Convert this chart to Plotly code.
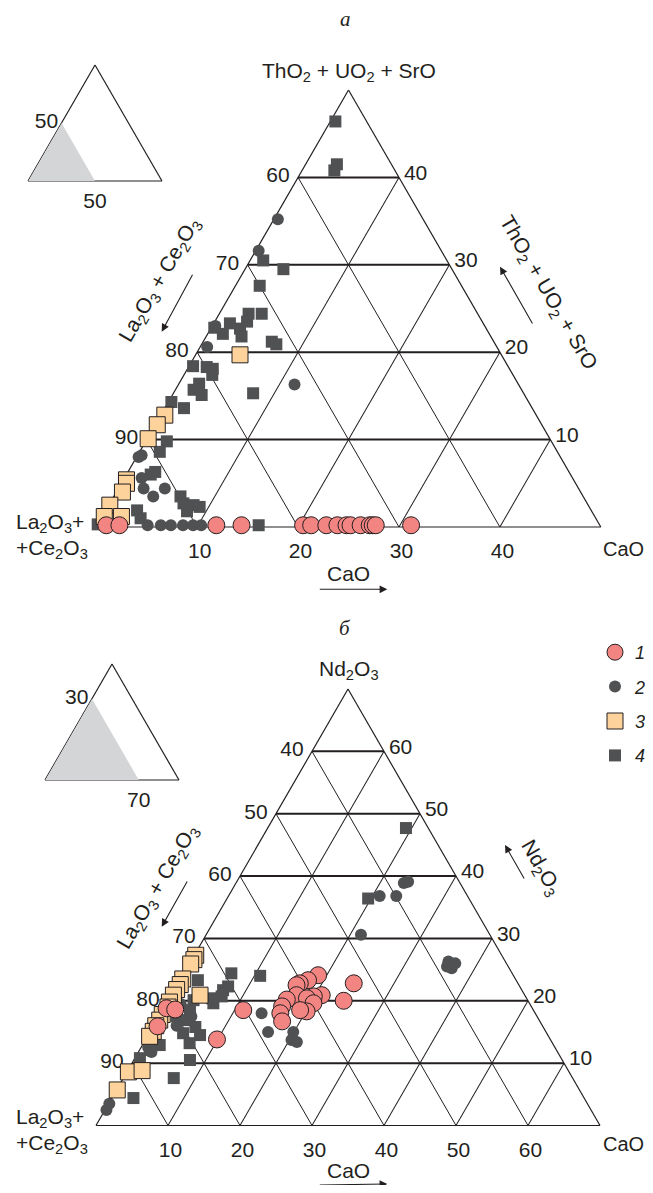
import plotly.graph_objects as go

# ---------------- Panel "а": ThO2+UO2+SrO (top), La2O3+Ce2O3 (left), CaO (right), wt.% ----------------
a1_th = [0.2, 0.2, 0.2, 0.2, 0.2, 0.2, 0.2, 0.2, 0.2, 0.2, 0.2, 0.2, 0.2, 0.2, 0.2]
a1_ca = [0.9, 2.2, 11.8, 14.3, 20.4, 21.2, 22.7, 23.8, 24.7, 25.1, 26.1, 27.0, 27.3, 27.6, 31.1]

a2_th = [35.2, 31.6, 23.0, 20.6, 16.3, 8.0, 8.2, 5.6, 4.4, 3.5, 4.4, 0.2, 0.2, 0.2, 0.2, 0.2, 0.2]
a2_ca = [0.4, 0.3, 0.3, 0.7, 11.5, 0.2, 0.4, 1.7, 2.5, 3.9, 4.6, 5.0, 6.3, 7.3, 8.5, 9.5, 10.3]

a3_th = [19.7, 12.8, 11.7, 10.1, 5.4, 5.0, 4.0, 2.5, 1.2, 1.2]
a3_ca = [4.4, 0.4, 0.2, 0.1, 0.3, 0.5, 0.6, 0.1, 0.2, 1.9]

a4_th = [46.4, 41.5, 40.8, 30.5, 29.5, 27.6, 24.4, 24.4, 23.5, 23.3, 22.8, 22.1, 22.7, 21.8,
         21.2, 20.9, 18.4, 18.3, 18.1, 17.4, 16.4, 15.7, 15.1, 15.3, 14.3, 13.6, 9.8, 8.6,
         6.3, 6.0, 3.5, 2.7, 2.5, 2.3, 1.8, 1.9, 1.0, 0.3, 0.2]
a4_ca = [0.5, 3.1, 3.2, 1.3, 3.8, 2.4, 2.9, 4.2, 3.2, 1.6, 0.3, 1.5, 2.9, 3.5,
         6.8, 7.4, 0.4, 1.8, 2.5, 2.8, 2.0, 1.8, 2.9, 7.9, 0.3, 1.9, 2.1, 2.0,
         2.7, 2.4, 6.6, 7.3, 8.4, 9.1, 8.1, 3.1, 3.9, 0.0, 16.0]

# ---------------- Panel "б": Nd2O3 (top), La2O3+Ce2O3 (left), CaO (right), wt.% ----------------
b1_nd = [24.1, 23.3, 22.8, 22.5, 22.8, 20.9, 20.7, 20.9, 20.2, 20.4, 20.0, 19.6, 18.3, 18.5,
         19.1, 18.0, 16.7, 18.5, 13.8, 18.8, 18.6, 15.9]
b1_ca = [18.8, 17.8, 16.9, 16.6, 24.4, 20.9, 19.9, 17.4, 16.4, 19.1, 24.4, 20.4, 20.1, 19.1,
         16.3, 16.6, 17.5, 11.2, 9.9, 0.4, 1.7, 0.6]

b2_nd = [38.9, 39.1, 36.8, 36.8, 30.6, 25.5, 26.3, 25.2, 26.0, 18.0, 15.0, 15.0, 13.7, 13.4,
         2.5, 3.5, 17.5, 16.0, 12.5, 11.8, 19.5]
b2_ca = [23.3, 23.8, 21.0, 23.3, 21.5, 36.0, 35.8, 36.8, 36.9, 14.0, 16.4, 19.9, 20.3, 21.2,
         0.2, 0.1, 4.5, 3.2, 1.0, 1.8, 2.0]

b3_nd = [27.3, 26.6, 25.9, 23.5, 22.6, 21.8, 20.9, 19.8, 19.0, 17.8, 16.9, 16.0, 15.1, 14.3,
         20.9, 8.6, 8.8, 5.7]
b3_ca = [0.2, 0.3, 0.2, 0.3, 0.4, 0.3, 0.3, 0.3, 0.5, 0.3, 0.4, 0.3, 0.4, 0.3,
         4.0, 0.2, 2.0, 0.1]

b4_nd = [47.7, 36.4, 24.0, 24.4, 22.3, 20.7, 19.6, 23.3, 21.7, 20.4, 20.1, 16.9, 15.8, 14.5,
         14.8, 13.2, 10.5, 7.6, 4.4, 12.1, 10.8, 12.9, 17.5, 18.5]
b4_ca = [19.2, 19.6, 10.8, 6.6, 7.2, 7.1, 6.5, 2.5, 6.8, 5.9, 3.5, 3.9, 5.9, 7.2,
         4.7, 6.4, 7.8, 7.0, 3.0, 1.5, 0.7, 2.4, 2.5, 3.8]

# tick values / labels
a_top_vals = [10, 20, 30, 40]
a_left_text = ["90", "80", "70", "60"]
a_bot_vals = [60, 70, 80, 90]
a_bot_text = ["40", "30", "20", "10"]
a_right_text = ["40", "30", "20", "10"]

b_top_vals = [10, 20, 30, 40, 50, 60]
b_left_text = ["90", "80", "70", "60", "50", "40"]
b_bot_vals = [40, 50, 60, 70, 80, 90]
b_bot_text = ["60", "50", "40", "30", "20", "10"]
b_right_text = ["60", "50", "40", "30", "20", "10"]

# inset shaded regions (top, left, right corner components)
ins_a_top = [0, 50, 0]
ins_a_left = [100, 50, 50]
ins_a_right = [0, 0, 50]
ins_b_top = [0, 70, 0]
ins_b_left = [100, 30, 30]
ins_b_right = [0, 0, 70]

# page is 653x1193; the html body has an 8px margin, so the figure is 16px smaller
OFF = 8
W, H = 653 - 2 * OFF, 1193 - 2 * OFF
INK = "#231f20"
FONT = "Liberation Sans"
FS = 21
PINK = "#f28482"
PEACH = "#fdd39b"
DARK = "#4f5153"


def px(x):
    return (x - OFF) / W


def py(y):
    return 1 - (y - OFF) / H


def rest(t, c):
    return [100 - ti - ci for ti, ci in zip(t, c)]


def axis(mn, vals, text, grid=True, gw=1.0, show_labels=True, tl=5):
    return dict(min=mn, tickmode="array", tickvals=vals, ticktext=text, ticks="outside",
                ticklen=tl, tickcolor="rgba(0,0,0,0)",
                showgrid=grid, gridcolor=INK, gridwidth=gw, showline=True, linecolor=INK,
                linewidth=1.2, layer="below traces", showticklabels=show_labels,
                tickfont=dict(family=FONT, size=FS, color=INK), title=dict(text=""))


def tern(x0, x1, ytop, ybot, aax, bax, cax):
    return dict(sum=100, domain=dict(x=[px(x0), px(x1)], y=[py(ybot), py(ytop)]),
                bgcolor="white", aaxis=aax, baxis=bax, caxis=cax)


fig = go.Figure()

styles = {
    1: dict(symbol="circle", size=17, color=PINK, line=dict(color=INK, width=1)),
    2: dict(symbol="circle", size=12, color=DARK, line=dict(width=0)),
    3: dict(symbol="square", size=16, color=PEACH, line=dict(color=INK, width=1)),
    4: dict(symbol="square", size=12, color=DARK, line=dict(width=0)),
}


def add(sub, top, cao, k, legend):
    fig.add_trace(go.Scatterternary(
        subplot=sub, a=top, b=rest(top, cao), c=cao, mode="markers",
        marker=styles[k], name=f"<i>{k}</i>", showlegend=legend,
        legendgroup=str(k), legendrank=k, cliponaxis=False))


for k, t, c in [(4, a4_th, a4_ca), (2, a2_th, a2_ca), (3, a3_th, a3_ca), (1, a1_th, a1_ca)]:
    add("ternary", t, c, k, False)
for k, t, c in [(4, b4_nd, b4_ca), (2, b2_nd, b2_ca), (3, b3_nd, b3_ca), (1, b1_nd, b1_ca)]:
    add("ternary3", t, c, k, True)

for sub, t, l, r in [("ternary2", ins_a_top, ins_a_left, ins_a_right),
                     ("ternary4", ins_b_top, ins_b_left, ins_b_right)]:
    fig.add_trace(go.Scatterternary(subplot=sub, a=t, b=l, c=r, mode="lines", fill="toself",
                                    fillcolor="#d4d5d7", line=dict(width=0), showlegend=False,
                                    hoverinfo="skip"))

fig.update_layout(
    width=W, height=H, margin=dict(l=0, r=0, t=0, b=0, autoexpand=False),
    paper_bgcolor="white", plot_bgcolor="white", showlegend=True,
    ternary=tern(96, 601, 90, 527,
                 axis(0, a_top_vals, a_left_text, gw=1.6),
                 axis(50, a_bot_vals, a_bot_text),
                 axis(0, a_top_vals, a_right_text, tl=3)),
    ternary2=tern(28, 162, 65, 181,
                  axis(0, [50], ["50"], grid=False, tl=0),
                  axis(0, [50], ["50"], grid=False, tl=0),
                  axis(0, [50], [""], grid=False, show_labels=False, tl=0)),
    ternary3=tern(96, 600, 689, 1125.5,
                  axis(0, b_top_vals, b_left_text, gw=1.6),
                  axis(30, b_bot_vals, b_bot_text),
                  axis(0, b_top_vals, b_right_text, tl=3)),
    ternary4=tern(45, 179, 664, 780,
                  axis(0, [70], ["30"], grid=False, tl=0),
                  axis(0, [30], ["70"], grid=False, tl=0),
                  axis(0, [50], [""], grid=False, show_labels=False, tl=0)),
    legend=dict(x=px(595), y=py(634), xanchor="left", yanchor="top",
                font=dict(family=FONT, size=18, color=INK), tracegroupgap=8,
                bgcolor="rgba(0,0,0,0)", itemwidth=30),
)

f = dict(family=FONT, size=FS, color=INK)
fr = dict(family=FONT, size=20, color=INK)
notes = [
    (345, 19, "<i>а</i>", 0, dict(family="Liberation Serif", size=21, color=INK)),
    (349, 72, "ThO<sub>2</sub> + UO<sub>2</sub> + SrO", 0, f),
    (50, 523, "La<sub>2</sub>O<sub>3</sub>+", 0, f),
    (52, 549, "+Ce<sub>2</sub>O<sub>3</sub>", 0, f),
    (623, 549, "CaO", 0, fr),
    (160, 280, "La<sub>2</sub>O<sub>3</sub> + Ce<sub>2</sub>O<sub>3</sub>", -60, f),
    (548, 293, "ThO<sub>2</sub> + UO<sub>2</sub> + SrO", 60, f),
    (348, 573, "CaO", 0, f),
    (345, 628, "<i>б</i>", 0, dict(family="Liberation Serif", size=21, color=INK)),
    (349, 670, "Nd<sub>2</sub>O<sub>3</sub>", 0, f),
    (50, 1118, "La<sub>2</sub>O<sub>3</sub>+", 0, f),
    (52, 1144, "+Ce<sub>2</sub>O<sub>3</sub>", 0, f),
    (623, 1144, "CaO", 0, fr),
    (158, 887, "La<sub>2</sub>O<sub>3</sub> + Ce<sub>2</sub>O<sub>3</sub>", -60, f),
    (541, 868, "Nd<sub>2</sub>O<sub>3</sub>", 60, f),
    (348, 1170, "CaO", 0, f),
]
for x, y, t, ang, ff in notes:
    fig.add_annotation(x=px(x), y=py(y), xref="paper", yref="paper", text=t, textangle=ang,
                       showarrow=False, font=ff, xanchor="center", yanchor="middle")

arrows = [
    ((161.7, 331.7), (193.3, 273.3)),
    ((500, 266.7), (533.3, 325)),
    ((387.3, 589.3), (318.3, 589.3)),
    ((161.7, 926.7), (188, 880)),
    ((505, 845), (525, 880)),
    ((387.3, 1187), (318.3, 1187)),
]
for (tx, ty), (sx, sy) in arrows:
    fig.add_annotation(x=px(tx), y=py(ty), xref="paper", yref="paper", text="",
                       showarrow=True, ax=sx - tx, ay=sy - ty, arrowhead=2, arrowsize=1.4,
                       arrowwidth=1.1, arrowcolor=INK, standoff=0)

fig.write_html("out.html")
